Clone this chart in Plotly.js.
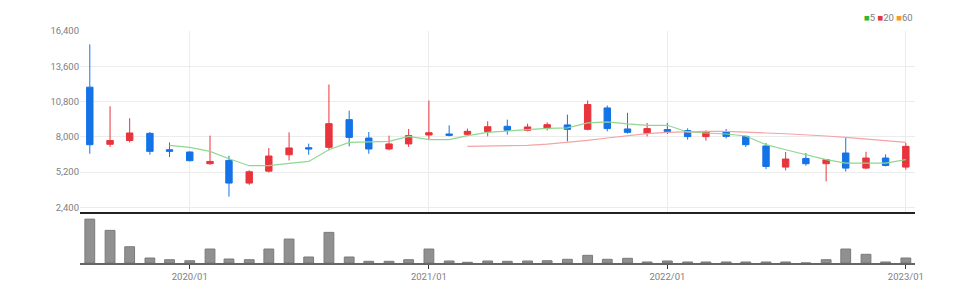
<!DOCTYPE html>
<html><head><meta charset="utf-8">
<script src="https://cdn.plot.ly/plotly-3.0.1.min.js"></script>
<style>html,body{margin:0;padding:0;background:#fff}#chart{width:970px;height:296px}</style>
</head><body><div id="chart"></div>
<script>
const months = ["2019-08-01","2019-09-01","2019-10-01","2019-11-01","2019-12-01",
"2020-01-01","2020-02-01","2020-03-01","2020-04-01","2020-05-01","2020-06-01","2020-07-01","2020-08-01","2020-09-01","2020-10-01","2020-11-01","2020-12-01",
"2021-01-01","2021-02-01","2021-03-01","2021-04-01","2021-05-01","2021-06-01","2021-07-01","2021-08-01","2021-09-01","2021-10-01","2021-11-01","2021-12-01",
"2022-01-01","2022-02-01","2022-03-01","2022-04-01","2022-05-01","2022-06-01","2022-07-01","2022-08-01","2022-09-01","2022-10-01","2022-11-01","2022-12-01",
"2023-01-01"];
const openP  = [11940,7400,7700,8270,6970, 6790,5860,6120,4320,5270,6570,7130,7160,9360,7900,7030,7430, 8140,8220,8190,8410,8830,8510,8670,8940,8590,10290,8620,8270, 8570,8490,8010,8410,8030,7270,5590,6280,5860,6710,5510,6310, 5590];
const highP  = [15340,10420,9470,8380,7550, 6830,8090,6490,5340,7110,8350,7450,12150,10080,8380,8090,8620, 10880,8910,8650,9230,9360,9040,9150,9760,10880,10480,9900,9100, 9100,8670,8510,8620,8090,7500,6790,6710,6180,7900,6810,6600, 7500];
const lowP   = [6650,7190,7550,6570,6390, 6050,5780,3250,4180,5160,6120,6570,6920,7240,6650,6920,7190, 7770,8030,8090,8030,8170,8430,8510,7630,8510,8430,8250,8030, 8220,7770,7690,7870,7190,5430,5330,5700,4450,5245,5430,5640, 5380];
const closeP = [7370,7700,8300,6840,6840, 6100,6040,4320,5220,6470,7110,7030,9040,7950,7030,7430,8090, 8320,8110,8430,8800,8510,8780,8960,8590,10560,8650,8350,8650, 8410,8010,8410,8030,7370,5640,6230,5860,6180,5510,6310,5720, 7240];
const volume = [440000,327000,163000,50000,33000, 23000,140000,40000,33000,140000,240000,60000,307000,60000,17000,17000,33000, 140000,20000,7000,20000,17000,20000,23000,37000,77000,37000,47000,10000, 20000,10000,10000,10000,10000,10000,10000,0,33000,140000,87000,10000, 50000];
const ma5Dates = months.slice(4);
const ma5 = [7320, 7160,6840,6250,5700,5700,5890,6040,6970,7550,7600,7630,8030, 7770,7770,8090,8350,8430,8565,8670,8700,9100,9180,9020,8910, 8910,8380,8300,8220,8060,7370,6970,6570,6180,5910,5910,5910, 6180];
const ma20Dates = months.slice(19);
const ma20 = [7240,7260,7290,7320,7420,7550,7720,7900,8080,8250, 8350,8400,8430,8420,8380,8300,8240,8170,8060,7950,7830,7710, 7550];
const priceTicks = [2400,5200,8000,10800,13600,16400];
const yearTicks = ["2020-01-01","2021-01-01","2022-01-01","2023-01-01"];
const yearLabels = ["2020/01","2021/01","2022/01","2023/01"];

const RED = '#e8343c', BLUE = '#1473e6';
const FONT = 'Liberation Sans Narrow, Roboto, sans-serif';
const xr = ['2019-07-17','2023-01-15'];

const traces = [
  {type:'candlestick', x:months, open:openP, high:highP, low:lowP, close:closeP,
   xaxis:'x', yaxis:'y', showlegend:false, hoverinfo:'skip', whiskerwidth:0,
   increasing:{line:{color:RED,width:1}, fillcolor:RED},
   decreasing:{line:{color:BLUE,width:1}, fillcolor:BLUE}},
  {type:'scatter', mode:'lines', x:ma5Dates, y:ma5, xaxis:'x', yaxis:'y',
   line:{color:'#8fd88f', width:1.2}, showlegend:false, hoverinfo:'skip'},
  {type:'scatter', mode:'lines', x:ma20Dates, y:ma20, xaxis:'x', yaxis:'y',
   line:{color:'#f4a3a6', width:1.2}, showlegend:false, hoverinfo:'skip'},
  {type:'bar', x:months, y:volume, xaxis:'x2', yaxis:'y2', width:15*86400000,
   marker:{color:'#909090', line:{color:'#7a7a7a', width:1}}, showlegend:false, hoverinfo:'skip'}
];

const layout = {
  width:970, height:296, margin:{l:80, r:55, t:31, b:33},
  paper_bgcolor:'#fff', plot_bgcolor:'#fff', boxgap:0.5, bargap:0,
  font:{family:FONT, size:9.5, color:'#808080'},
  xaxis:{type:'date', range:xr, domain:[0,1], anchor:'y', showticklabels:false,
    tickvals:yearTicks, showgrid:true, gridcolor:'#ececec', gridwidth:1,
    showline:true, linecolor:'#222', linewidth:2, mirror:false, zeroline:false,
    rangeslider:{visible:false}, ticks:''},
  yaxis:{domain:[0.218,1], range:[1990,16400], tickvals:priceTicks, tickformat:',d',
    showgrid:true, gridcolor:'#ececec', gridwidth:1, zeroline:false, showline:false,
    ticks:'', tickfont:{family:FONT, size:9.5, color:'#808080'}},
  xaxis2:{type:'date', range:xr, domain:[0,1], anchor:'y2', tickvals:yearTicks, ticktext:yearLabels,
    showgrid:false, showline:true, linecolor:'#666', linewidth:2, ticks:'outside', ticklen:4,
    tickcolor:'#333', tickwidth:1, tickfont:{family:FONT, size:9.5, color:'#808080'}, zeroline:false},
  yaxis2:{domain:[0,0.215], range:[0,500000], showticklabels:false, showgrid:false, zeroline:false, showline:false},
  annotations:[{xref:'paper', yref:'paper', x:1, y:1, xanchor:'right', yanchor:'bottom', yshift:6, showarrow:false,
    text:'<span style="color:#2db82d">■</span>5 <span style="color:#e8343c">■</span>20 <span style="color:#f39a2e">■</span>60',
    font:{family:FONT, size:9.5, color:'#808080'}}]
};
Plotly.newPlot('chart', traces, layout, {displayModeBar:false, staticPlot:true});
</script></body></html>
